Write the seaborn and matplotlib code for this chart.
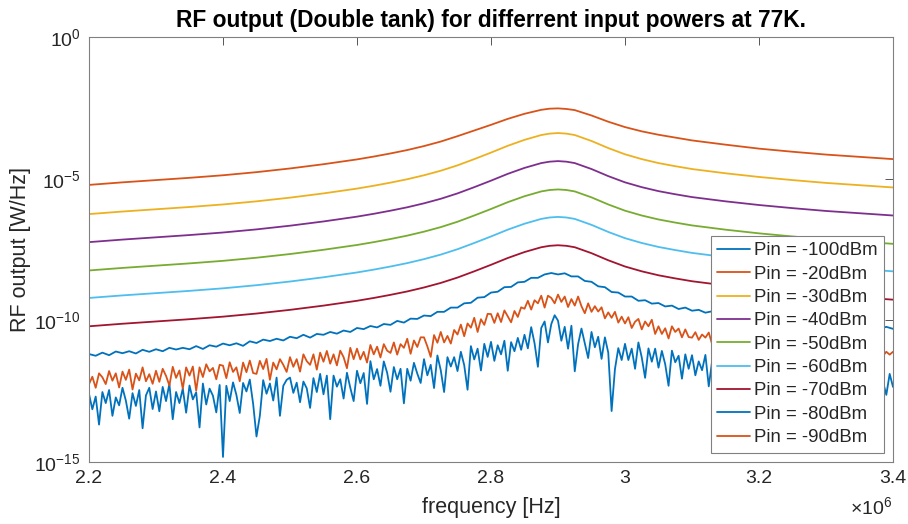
import numpy as np
import matplotlib
matplotlib.use("Agg")
import matplotlib.pyplot as plt
import seaborn as sns
from matplotlib.ticker import FixedLocator, NullLocator, LogFormatterMathtext

# frequencias en MHz (se pasan a Hz al graficar)
freq_smooth = [2.20, 2.25, 2.30, 2.35, 2.40, 2.45, 2.50, 2.55, 2.60, 2.625, 2.65, 2.675, 2.70,
               2.725, 2.75, 2.775, 2.80, 2.825, 2.85, 2.875, 2.8875, 2.90, 2.9125, 2.925, 2.95,
               2.975, 3.00, 3.025, 3.05, 3.075, 3.10, 3.15, 3.20, 3.25, 3.30, 3.35, 3.40]
freq_mid = np.linspace(2.2, 3.4, 121)
freq_fine = np.linspace(2.2, 3.4, 241)

# valores en log10(W/Hz)
p20 = [-5.22, -5.13, -5.05, -4.97, -4.88, -4.77, -4.64, -4.49, -4.32, -4.22, -4.11, -3.99, -3.85,
       -3.69, -3.50, -3.30, -3.10, -2.89, -2.71, -2.57, -2.53, -2.52, -2.54, -2.58, -2.77,
       -2.99, -3.18, -3.33, -3.45, -3.55, -3.65, -3.80, -3.94, -4.05, -4.15, -4.23, -4.31]
p30 = [-6.25, -6.16, -6.08, -6.00, -5.91, -5.80, -5.67, -5.52, -5.35, -5.25, -5.14, -5.02, -4.88,
       -4.72, -4.53, -4.31, -4.08, -3.84, -3.63, -3.46, -3.41, -3.39, -3.41, -3.46, -3.67,
       -3.92, -4.14, -4.31, -4.45, -4.56, -4.66, -4.81, -4.94, -5.05, -5.15, -5.23, -5.31]
p40 = [-7.24, -7.15, -7.07, -6.99, -6.90, -6.79, -6.66, -6.51, -6.34, -6.24, -6.13, -6.01, -5.87,
       -5.71, -5.52, -5.30, -5.07, -4.83, -4.62, -4.45, -4.40, -4.38, -4.40, -4.45, -4.66,
       -4.91, -5.13, -5.30, -5.44, -5.55, -5.65, -5.80, -5.93, -6.04, -6.14, -6.22, -6.30]
p50 = [-8.24, -8.15, -8.07, -7.99, -7.90, -7.79, -7.66, -7.51, -7.34, -7.24, -7.13, -7.01, -6.87,
       -6.71, -6.52, -6.30, -6.07, -5.83, -5.62, -5.45, -5.40, -5.38, -5.40, -5.45, -5.66,
       -5.91, -6.13, -6.30, -6.44, -6.55, -6.65, -6.80, -6.93, -7.04, -7.14, -7.22, -7.30]
p60 = [-9.21, -9.12, -9.04, -8.96, -8.87, -8.76, -8.63, -8.48, -8.31, -8.21, -8.10, -7.98, -7.84,
       -7.68, -7.49, -7.27, -7.04, -6.80, -6.59, -6.42, -6.37, -6.35, -6.37, -6.42, -6.63,
       -6.88, -7.10, -7.27, -7.41, -7.52, -7.62, -7.77, -7.90, -8.01, -8.11, -8.19, -8.27]
p70 = [-10.21, -10.12, -10.04, -9.96, -9.87, -9.76, -9.63, -9.48, -9.31, -9.21, -9.10, -8.98, -8.84,
       -8.68, -8.49, -8.27, -8.04, -7.80, -7.59, -7.42, -7.37, -7.35, -7.37, -7.42, -7.63,
       -7.88, -8.10, -8.27, -8.41, -8.52, -8.62, -8.77, -8.90, -9.01, -9.11, -9.19, -9.27]

p80 = [-11.19, -11.25, -11.14, -11.23, -11.10, -11.16, -11.09, -11.17, -11.04, -11.11,
       -11.02, -11.09, -10.97, -11.03, -10.97, -11.02, -10.91, -11.01, -10.88, -10.93,
       -10.82, -10.88, -10.81, -10.90, -10.74, -10.80, -10.68, -10.73, -10.65, -10.71,
       -10.58, -10.63, -10.51, -10.61, -10.48, -10.51, -10.41, -10.47, -10.36, -10.41,
       -10.27, -10.31, -10.20, -10.25, -10.13, -10.16, -10.02, -10.08, -9.94, -9.95,
       -9.83, -9.85, -9.70, -9.70, -9.55, -9.55, -9.40, -9.38, -9.20, -9.18,
       -9.02, -8.99, -8.83, -8.82, -8.66, -8.64, -8.50, -8.50, -8.38, -8.33,
       -8.38, -8.34, -8.45, -8.45, -8.61, -8.64, -8.80, -8.83, -9.00, -9.02,
       -9.16, -9.16, -9.31, -9.29, -9.41, -9.39, -9.51, -9.48, -9.60, -9.55,
       -9.66, -9.63, -9.73, -9.68, -9.80, -9.75, -9.84, -9.79, -9.90, -9.85,
       -9.94, -9.89, -9.99, -9.95, -10.03, -9.98, -10.08, -10.03, -10.11, -10.06,
       -10.16, -10.11, -10.18, -10.13, -10.22, -10.17, -10.25, -10.19, -10.29, -10.23,
       -10.30]

p90 = [-12.25, -11.99, -12.38, -11.87, -12.01, -12.25, -11.79, -12.13, -11.87, -12.37,
       -11.81, -12.10, -11.74, -12.44, -11.88, -12.12, -11.66, -12.15, -11.90, -12.24,
       -11.78, -12.17, -11.71, -11.96, -12.30, -11.64, -12.03, -11.77, -12.41, -11.66,
       -11.95, -11.63, -12.48, -11.66, -12.00, -11.55, -11.80, -11.68, -12.08, -11.57,
       -11.60, -12.04, -11.48, -11.82, -11.66, -12.15, -11.49, -11.83, -11.42, -11.86,
       -11.89, -11.43, -11.72, -11.36, -12.10, -11.49, -11.73, -11.37, -11.57, -11.82,
       -11.30, -11.64, -11.37, -11.81, -11.20, -11.44, -11.57, -11.20, -11.74, -11.14,
       -11.46, -11.08, -11.53, -11.20, -11.59, -11.07, -11.30, -11.69, -10.97, -11.37,
       -11.00, -11.38, -11.11, -11.49, -10.87, -11.20, -10.93, -11.31, -10.84, -11.07,
       -11.15, -10.78, -11.21, -10.84, -10.97, -10.65, -11.18, -10.71, -10.94, -10.60,
       -10.60, -10.92, -11.29, -10.52, -10.79, -10.41, -10.78, -10.55, -10.82, -10.34,
       -10.50, -10.15, -10.56, -10.11, -10.26, -9.91, -10.41, -9.96, -10.16, -9.77,
       -9.78, -10.09, -9.75, -10.06, -9.65, -9.86, -10.07, -9.67, -9.88, -9.54,
       -9.59, -9.31, -9.62, -9.29, -9.40, -9.13, -9.55, -9.13, -9.21, -9.40,
       -9.09, -9.35, -9.16, -9.53, -9.25, -9.48, -9.16, -9.50, -9.75, -9.40,
       -9.70, -9.50, -9.69, -9.54, -9.93, -9.72, -9.91, -9.70, -10.08, -9.87,
       -10.11, -9.89, -10.27, -10.05, -9.95, -10.32, -10.04, -10.21, -9.98, -10.48,
       -10.21, -10.48, -10.28, -10.64, -10.21, -10.41, -10.29, -10.60, -10.32, -10.59,
       -10.61, -10.42, -10.69, -10.50, -10.61, -10.43, -10.84, -10.51, -10.73, -10.59,
       -10.56, -10.82, -10.60, -10.78, -10.54, -10.95, -10.67, -10.79, -10.67, -10.93,
       -10.84, -10.68, -11.00, -10.76, -10.92, -10.66, -10.87, -11.08, -10.82, -10.94,
       -10.85, -11.06, -10.80, -10.96, -11.12, -10.83, -11.04, -10.90, -11.01, -10.89,
       -11.10, -10.96, -11.17, -10.92, -11.08, -11.24, -10.95, -11.11, -11.01, -11.17,
       -11.03, -11.19, -10.99, -11.25, -11.06, -11.17, -10.98, -11.25, -11.11, -11.21,
       -11.11]

p100 = [-12.60, -13.14, -12.69, -13.68, -12.53, -12.92, -12.46, -13.37, -12.72, -13.00,
        -12.38, -12.83, -13.47, -12.57, -13.02, -12.46, -13.81, -12.65, -12.38, -13.13,
        -12.51, -13.21, -12.35, -12.85, -12.24, -13.49, -12.53, -12.92, -12.41, -13.26,
        -12.30, -12.79, -12.54, -13.78, -12.23, -12.97, -12.41, -12.66, -13.25, -12.28,
        -14.82, -12.31, -12.85, -12.19, -12.63, -13.27, -12.21, -12.51, -12.09, -12.95,
        -14.10, -13.37, -12.11, -12.59, -12.23, -12.83, -12.02, -13.37, -12.31, -12.10,
        -12.02, -12.56, -12.20, -12.89, -12.16, -12.40, -13.09, -12.04, -12.53, -11.89,
        -12.61, -11.95, -13.49, -11.95, -12.34, -12.08, -12.76, -11.85, -12.38, -12.85,
        -11.78, -12.22, -11.86, -12.95, -11.44, -12.08, -11.72, -12.31, -11.45, -11.85,
        -12.52, -11.65, -12.08, -11.71, -12.93, -11.71, -12.13, -11.50, -11.88, -12.21,
        -11.37, -11.94, -11.57, -12.39, -11.24, -11.76, -12.53, -11.30, -11.63, -11.30,
        -11.79, -11.11, -11.58, -12.45, -10.91, -11.38, -11.00, -11.77, -10.83, -11.29,
        -10.76, -11.43, -10.88, -11.20, -10.72, -11.78, -10.77, -11.09, -10.62, -11.04,
        -10.51, -10.99, -10.24, -10.81, -11.64, -10.27, -10.04, -10.78, -10.13, -9.82,
        -10.01, -10.72, -10.23, -11.00, -10.19, -11.80, -10.84, -10.29, -10.81, -11.33,
        -10.41, -10.95, -10.58, -11.36, -10.60, -11.14, -13.20, -11.72, -10.98, -11.40,
        -10.83, -11.40, -11.00, -11.71, -10.78, -11.31, -12.03, -10.99, -11.46, -11.00,
        -11.67, -11.08, -11.55, -12.31, -11.07, -11.48, -11.25, -12.06, -11.20, -11.71,
        -11.23, -11.94, -11.45, -11.76, -11.22, -12.33, -11.44, -11.71, -11.37, -12.08,
        -11.40, -11.96, -11.31, -12.52, -11.58, -11.84, -11.39, -12.25, -11.53, -11.84,
        -11.45, -11.96, -12.47, -11.42, -11.88, -11.68, -12.24, -11.50, -12.82, -11.68,
        -12.09, -11.50, -12.00, -11.76, -12.47, -11.58, -12.09, -11.65, -12.70, -11.86,
        -11.62, -12.28, -11.78, -12.04, -11.58, -12.59, -11.74, -12.20, -11.65, -12.12,
        -11.73, -12.39, -11.89, -12.20, -11.64, -12.55, -11.71, -12.17, -12.63, -11.89,
        -12.35]

labels = ['Pin = -100dBm', 'Pin = -20dBm', 'Pin = -30dBm', 'Pin = -40dBm', 'Pin = -50dBm',
          'Pin = -60dBm', 'Pin = -70dBm', 'Pin = -80dBm', 'Pin = -90dBm']
series = [(freq_fine, p100), (freq_smooth, p20), (freq_smooth, p30), (freq_smooth, p40),
          (freq_smooth, p50), (freq_smooth, p60), (freq_smooth, p70), (freq_mid, p80),
          (freq_fine, p90)]
colores = ['#0072BD', '#D95319', '#EDB120', '#7E2F8E', '#77AC30', '#4DBEEE', '#A2142F',
           '#0072BD', '#D95319']

xticks = [2.2, 2.4, 2.6, 2.8, 3.0, 3.2, 3.4]
xtick_labels = ['2.2', '2.4', '2.6', '2.8', '3', '3.2', '3.4']
yticks = [1e-15, 1e-10, 1e-5, 1e0]

sns.set_theme(style="white")
plt.rcParams['font.family'] = ['Liberation Sans', 'DejaVu Sans']
plt.rcParams['mathtext.fontset'] = 'custom'
plt.rcParams['mathtext.rm'] = 'Liberation Sans'

fig = plt.figure(figsize=(9.08, 5.24), dpi=100)
ax = fig.add_axes([0.098, 0.1183, 0.8855, 0.8111])

for (f, v), lab, c in zip(series, labels, colores):
    sns.lineplot(x=np.array(f) * 1e6, y=10 ** np.array(v), ax=ax, color=c, label=lab,
                 linewidth=1.3, estimator=None, sort=False, legend=False)

ax.set_yscale('log')
ax.set_xlim(2.2e6, 3.4e6)
ax.set_ylim(1e-15, 1e0)
ax.yaxis.set_major_locator(FixedLocator(yticks))
ax.yaxis.set_major_formatter(LogFormatterMathtext())
ax.yaxis.set_minor_locator(NullLocator())
ax.set_xticks([x * 1e6 for x in xticks])
ax.set_xticklabels(xtick_labels)

ax.tick_params(direction='in', length=6, width=0.7, top=True, right=True,
               labelsize=14, color='#555555', labelcolor='#262626', pad=6)
for s in ax.spines.values():
    s.set_color('#808080')
    s.set_linewidth(0.8)

ax.set_title('RF output (Double tank) for differrent input powers at 77K.',
             fontsize=16.4, fontweight='bold', color='black', pad=7)
ax.set_xlabel('frequency [Hz]', fontsize=15.5, color='#262626', labelpad=7)
ax.set_ylabel('RF output [W/Hz]', fontsize=15.5, color='#262626', labelpad=2)
fig.text(0.983, 0.012, r'$\times\mathdefault{10^{6}}$', ha='right', va='bottom',
         fontsize=14, color='#262626')

handles, labs = ax.get_legend_handles_labels()
leg = ax.legend(handles, labs, loc='lower right', fontsize=13.4, frameon=True, fancybox=False,
                framealpha=1, edgecolor='#808080', borderaxespad=0.5, labelspacing=0.34,
                handlelength=1.75, handletextpad=0.2, borderpad=0.35)
leg.get_frame().set_linewidth(0.8)
for t in leg.get_texts():
    t.set_color('#262626')

fig.savefig('out.png', dpi=100)
